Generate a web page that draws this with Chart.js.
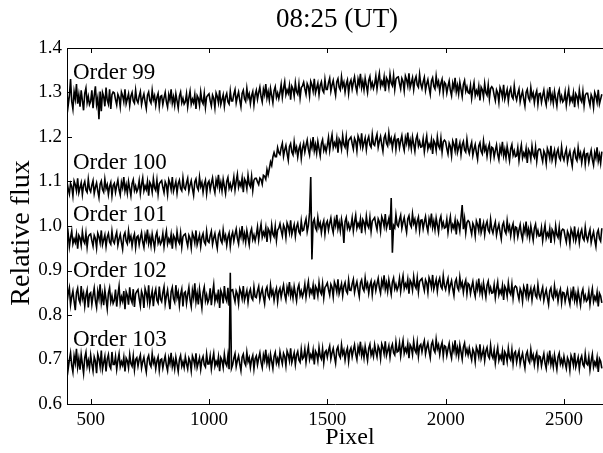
<!DOCTYPE html>
<html>
<head>
<meta charset="utf-8">
<script src="https://cdn.jsdelivr.net/npm/chart.js@4.4.1/dist/chart.umd.min.js"></script>
<style>
  html, body { margin: 0; padding: 0; background: #fff; }
  #wrap { width: 603px; height: 453px; }
</style>
</head>
<body>
<div id="wrap"><canvas id="chart" width="603" height="453"></canvas></div>
<script>
const pixels = Array.from({length: 453}, (_, i) => 400 + 5 * i)

const order99 = [
  1.299, 1.271, 1.292, 1.330, 1.280, 1.263, 1.302, 1.285, 1.319, 1.275, 1.295, 1.268, 1.305, 1.282, 1.260, 1.298, 1.310, 1.277, 1.291, 1.273,
  1.280, 1.305, 1.265, 1.293, 1.314, 1.273, 1.288, 1.240, 1.302, 1.258, 1.300, 1.291, 1.269, 1.311, 1.283, 1.274, 1.307, 1.263, 1.295, 1.301,
  1.299, 1.284, 1.272, 1.296, 1.289, 1.268, 1.301, 1.293, 1.279, 1.307, 1.275, 1.286, 1.297, 1.271, 1.292, 1.300, 1.281, 1.276, 1.305, 1.283,
  1.277, 1.292, 1.302, 1.273, 1.287, 1.297, 1.279, 1.264, 1.294, 1.301, 1.282, 1.276, 1.305, 1.284, 1.293, 1.271, 1.289, 1.298, 1.268, 1.291,
  1.293, 1.273, 1.288, 1.300, 1.279, 1.267, 1.295, 1.283, 1.307, 1.276, 1.290, 1.271, 1.297, 1.281, 1.265, 1.292, 1.301, 1.277, 1.287, 1.274,
  1.279, 1.297, 1.268, 1.288, 1.303, 1.274, 1.285, 1.277, 1.295, 1.263, 1.293, 1.287, 1.271, 1.301, 1.281, 1.275, 1.298, 1.267, 1.290, 1.294,
  1.297, 1.282, 1.270, 1.294, 1.287, 1.266, 1.299, 1.291, 1.277, 1.305, 1.273, 1.284, 1.295, 1.269, 1.290, 1.298, 1.279, 1.274, 1.303, 1.281,
  1.281, 1.296, 1.306, 1.277, 1.291, 1.301, 1.283, 1.268, 1.298, 1.305, 1.286, 1.280, 1.309, 1.288, 1.297, 1.275, 1.293, 1.302, 1.272, 1.295,
  1.305, 1.285, 1.300, 1.312, 1.291, 1.279, 1.307, 1.295, 1.319, 1.288, 1.302, 1.283, 1.309, 1.293, 1.277, 1.304, 1.313, 1.289, 1.299, 1.286,
  1.300, 1.318, 1.289, 1.309, 1.324, 1.295, 1.306, 1.298, 1.316, 1.284, 1.314, 1.308, 1.292, 1.322, 1.302, 1.296, 1.319, 1.288, 1.311, 1.315,
  1.323, 1.308, 1.296, 1.320, 1.313, 1.292, 1.325, 1.317, 1.303, 1.331, 1.299, 1.310, 1.321, 1.295, 1.316, 1.324, 1.305, 1.300, 1.329, 1.307,
  1.307, 1.322, 1.332, 1.303, 1.317, 1.327, 1.309, 1.294, 1.324, 1.331, 1.312, 1.306, 1.335, 1.314, 1.323, 1.301, 1.319, 1.328, 1.298, 1.321,
  1.328, 1.308, 1.323, 1.335, 1.314, 1.302, 1.330, 1.318, 1.342, 1.311, 1.325, 1.306, 1.332, 1.316, 1.300, 1.327, 1.336, 1.312, 1.322, 1.309,
  1.319, 1.337, 1.308, 1.328, 1.343, 1.314, 1.325, 1.317, 1.335, 1.303, 1.333, 1.327, 1.311, 1.341, 1.321, 1.315, 1.338, 1.307, 1.330, 1.334,
  1.335, 1.320, 1.308, 1.332, 1.325, 1.304, 1.337, 1.329, 1.315, 1.343, 1.311, 1.322, 1.333, 1.307, 1.328, 1.336, 1.317, 1.312, 1.341, 1.319,
  1.309, 1.324, 1.334, 1.305, 1.319, 1.329, 1.311, 1.296, 1.326, 1.333, 1.314, 1.308, 1.337, 1.316, 1.325, 1.303, 1.321, 1.330, 1.300, 1.323,
  1.319, 1.299, 1.314, 1.326, 1.305, 1.293, 1.321, 1.309, 1.333, 1.302, 1.316, 1.297, 1.323, 1.307, 1.291, 1.318, 1.327, 1.303, 1.313, 1.300,
  1.298, 1.316, 1.287, 1.307, 1.322, 1.293, 1.304, 1.296, 1.314, 1.282, 1.312, 1.306, 1.290, 1.320, 1.300, 1.294, 1.317, 1.286, 1.309, 1.313,
  1.309, 1.294, 1.282, 1.306, 1.299, 1.278, 1.311, 1.303, 1.289, 1.317, 1.285, 1.296, 1.307, 1.281, 1.302, 1.310, 1.291, 1.286, 1.315, 1.293,
  1.283, 1.298, 1.308, 1.279, 1.293, 1.303, 1.285, 1.270, 1.300, 1.307, 1.288, 1.282, 1.311, 1.290, 1.299, 1.277, 1.295, 1.304, 1.274, 1.297,
  1.298, 1.278, 1.293, 1.305, 1.284, 1.272, 1.300, 1.288, 1.312, 1.281, 1.295, 1.276, 1.302, 1.286, 1.270, 1.297, 1.306, 1.282, 1.292, 1.279,
  1.283, 1.301, 1.272, 1.292, 1.307, 1.278, 1.289, 1.281, 1.299, 1.267, 1.297, 1.291, 1.275, 1.305, 1.285, 1.279, 1.302, 1.271, 1.294, 1.298,
  1.298, 1.283, 1.271, 1.295, 1.288, 1.267, 1.300, 1.292, 1.278, 1.306, 1.274, 1.285, 1.296
]

const order100 = [
  1.099, 1.084, 1.072, 1.096, 1.089, 1.068, 1.101, 1.093, 1.079, 1.107, 1.075, 1.086, 1.097, 1.071, 1.092, 1.100, 1.081, 1.076, 1.105, 1.083,
  1.077, 1.092, 1.102, 1.073, 1.087, 1.097, 1.079, 1.064, 1.094, 1.101, 1.082, 1.076, 1.105, 1.084, 1.093, 1.071, 1.089, 1.098, 1.068, 1.091,
  1.096, 1.076, 1.091, 1.103, 1.082, 1.070, 1.098, 1.086, 1.110, 1.079, 1.093, 1.074, 1.100, 1.084, 1.068, 1.095, 1.104, 1.080, 1.090, 1.077,
  1.084, 1.102, 1.073, 1.093, 1.108, 1.079, 1.090, 1.082, 1.100, 1.068, 1.098, 1.092, 1.076, 1.106, 1.086, 1.080, 1.103, 1.072, 1.095, 1.099,
  1.102, 1.087, 1.075, 1.099, 1.092, 1.071, 1.104, 1.096, 1.082, 1.110, 1.078, 1.089, 1.100, 1.074, 1.095, 1.103, 1.084, 1.079, 1.108, 1.086,
  1.082, 1.097, 1.107, 1.078, 1.092, 1.102, 1.084, 1.069, 1.099, 1.106, 1.087, 1.081, 1.110, 1.089, 1.098, 1.076, 1.094, 1.103, 1.073, 1.096,
  1.101, 1.081, 1.096, 1.108, 1.087, 1.075, 1.103, 1.091, 1.115, 1.084, 1.098, 1.079, 1.105, 1.089, 1.073, 1.100, 1.109, 1.085, 1.095, 1.082,
  1.092, 1.110, 1.081, 1.101, 1.116, 1.087, 1.098, 1.090, 1.108, 1.076, 1.106, 1.100, 1.084, 1.114, 1.094, 1.088, 1.111, 1.080, 1.103, 1.107,
  1.107, 1.099, 1.093, 1.108, 1.105, 1.094, 1.114, 1.112, 1.105, 1.127, 1.115, 1.129, 1.144, 1.136, 1.155, 1.165, 1.156, 1.156, 1.176, 1.165,
  1.161, 1.176, 1.186, 1.157, 1.171, 1.181, 1.163, 1.148, 1.178, 1.185, 1.166, 1.160, 1.189, 1.168, 1.177, 1.155, 1.173, 1.182, 1.152, 1.175,
  1.186, 1.166, 1.181, 1.193, 1.172, 1.160, 1.188, 1.176, 1.200, 1.169, 1.183, 1.164, 1.190, 1.174, 1.158, 1.185, 1.194, 1.170, 1.180, 1.167,
  1.181, 1.199, 1.170, 1.190, 1.205, 1.176, 1.187, 1.179, 1.197, 1.165, 1.195, 1.189, 1.173, 1.203, 1.183, 1.177, 1.200, 1.169, 1.192, 1.196,
  1.200, 1.185, 1.173, 1.197, 1.190, 1.169, 1.202, 1.194, 1.180, 1.208, 1.176, 1.187, 1.198, 1.172, 1.193, 1.201, 1.182, 1.177, 1.206, 1.184,
  1.181, 1.196, 1.206, 1.177, 1.191, 1.201, 1.183, 1.168, 1.198, 1.205, 1.186, 1.180, 1.209, 1.188, 1.197, 1.175, 1.193, 1.202, 1.172, 1.195,
  1.196, 1.176, 1.191, 1.203, 1.182, 1.170, 1.198, 1.186, 1.210, 1.179, 1.193, 1.174, 1.200, 1.184, 1.168, 1.195, 1.204, 1.180, 1.190, 1.177,
  1.178, 1.196, 1.167, 1.187, 1.202, 1.173, 1.184, 1.176, 1.194, 1.162, 1.192, 1.186, 1.170, 1.200, 1.180, 1.174, 1.197, 1.166, 1.189, 1.193,
  1.189, 1.174, 1.162, 1.186, 1.179, 1.158, 1.191, 1.183, 1.169, 1.197, 1.165, 1.176, 1.187, 1.161, 1.182, 1.190, 1.171, 1.166, 1.195, 1.173,
  1.163, 1.178, 1.188, 1.159, 1.173, 1.183, 1.165, 1.150, 1.180, 1.187, 1.168, 1.162, 1.191, 1.170, 1.179, 1.157, 1.175, 1.184, 1.154, 1.177,
  1.175, 1.155, 1.170, 1.182, 1.161, 1.149, 1.177, 1.165, 1.189, 1.158, 1.172, 1.153, 1.179, 1.163, 1.147, 1.174, 1.183, 1.159, 1.169, 1.156,
  1.158, 1.176, 1.147, 1.167, 1.182, 1.153, 1.164, 1.156, 1.174, 1.142, 1.172, 1.166, 1.150, 1.180, 1.160, 1.154, 1.177, 1.146, 1.169, 1.173,
  1.172, 1.157, 1.145, 1.169, 1.162, 1.141, 1.174, 1.166, 1.152, 1.180, 1.148, 1.159, 1.170, 1.144, 1.165, 1.173, 1.154, 1.149, 1.178, 1.156,
  1.148, 1.163, 1.173, 1.144, 1.158, 1.168, 1.150, 1.135, 1.165, 1.172, 1.153, 1.147, 1.176, 1.155, 1.164, 1.142, 1.160, 1.169, 1.139, 1.162,
  1.163, 1.143, 1.158, 1.170, 1.149, 1.137, 1.165, 1.153, 1.177, 1.146, 1.160, 1.141, 1.167
]

const order101 = [
  0.965, 0.983, 0.954, 0.974, 0.989, 0.960, 0.971, 0.963, 0.981, 0.949, 0.979, 0.973, 0.957, 0.987, 0.967, 0.961, 0.984, 0.953, 0.976, 0.980,
  0.982, 0.967, 0.955, 0.979, 0.972, 0.951, 0.984, 0.976, 0.962, 0.990, 0.958, 0.969, 0.980, 0.954, 0.975, 0.983, 0.964, 0.959, 0.988, 0.966,
  0.961, 0.976, 0.986, 0.957, 0.971, 0.981, 0.963, 0.948, 0.978, 0.985, 0.966, 0.960, 0.989, 0.968, 0.977, 0.955, 0.973, 0.982, 0.952, 0.975,
  0.978, 0.958, 0.973, 0.985, 0.964, 0.952, 0.980, 0.968, 0.992, 0.961, 0.975, 0.956, 0.982, 0.966, 0.950, 0.977, 0.986, 0.962, 0.972, 0.959,
  0.965, 0.983, 0.954, 0.974, 0.989, 0.960, 0.971, 0.963, 0.981, 0.949, 0.979, 0.973, 0.957, 0.987, 0.967, 0.961, 0.984, 0.953, 0.976, 0.980,
  0.982, 0.967, 0.955, 0.979, 0.972, 0.951, 0.984, 0.976, 0.962, 0.990, 0.958, 0.969, 0.980, 0.954, 0.975, 0.983, 0.964, 0.959, 0.988, 0.966,
  0.963, 0.978, 0.988, 0.959, 0.973, 0.983, 0.965, 0.950, 0.980, 0.987, 0.968, 0.962, 0.991, 0.970, 0.979, 0.957, 0.975, 0.984, 0.954, 0.977,
  0.986, 0.966, 0.981, 0.993, 0.972, 0.960, 0.988, 0.976, 1.000, 0.969, 0.983, 0.964, 0.990, 0.974, 0.958, 0.985, 0.994, 0.970, 0.980, 0.967,
  0.980, 0.998, 0.969, 0.989, 1.004, 0.975, 0.986, 0.978, 0.996, 0.964, 0.994, 0.988, 0.972, 1.002, 0.982, 0.976, 0.999, 0.968, 0.991, 0.995,
  1.005, 0.990, 0.978, 1.002, 0.995, 0.974, 1.007, 0.999, 0.985, 1.013, 0.981, 0.992, 1.003, 0.977, 0.998, 1.006, 0.987, 0.982, 1.011, 0.989,
  0.991, 1.006, 1.016, 0.987, 1.001, 1.030, 1.110, 0.925, 1.008, 1.015, 0.996, 0.990, 1.019, 0.998, 1.007, 0.985, 1.003, 1.012, 0.982, 1.005,
  1.011, 0.991, 1.006, 1.018, 0.997, 0.985, 1.013, 1.001, 1.025, 0.994, 1.008, 0.989, 1.015, 0.999, 0.962, 1.010, 1.019, 0.995, 1.005, 0.992,
  1.000, 1.018, 0.989, 1.009, 1.024, 0.995, 1.006, 0.998, 1.016, 0.984, 1.014, 1.008, 0.992, 1.022, 1.002, 0.996, 1.019, 0.988, 1.011, 1.015,
  1.019, 1.004, 0.992, 1.016, 1.009, 0.988, 1.021, 1.013, 0.999, 1.027, 0.995, 1.006, 1.017, 0.991, 1.063, 0.940, 1.001, 0.996, 1.025, 1.003,
  0.999, 1.014, 1.024, 0.995, 1.009, 1.019, 1.001, 0.986, 1.016, 1.023, 1.004, 0.998, 1.027, 1.006, 1.015, 0.993, 1.011, 1.020, 0.990, 1.013,
  1.014, 0.994, 1.009, 1.021, 1.000, 0.988, 1.016, 1.004, 1.028, 0.997, 1.011, 0.992, 1.018, 1.002, 0.986, 1.013, 1.022, 0.998, 1.008, 0.995,
  0.997, 1.015, 0.986, 1.006, 1.021, 0.992, 1.003, 0.995, 1.013, 0.981, 1.011, 1.005, 0.989, 1.019, 1.047, 0.993, 1.016, 0.985, 1.008, 1.012,
  1.009, 0.994, 0.982, 1.006, 0.999, 0.978, 1.011, 1.003, 0.989, 1.017, 0.985, 0.996, 1.007, 0.981, 1.002, 1.010, 0.991, 0.986, 1.015, 0.993,
  0.984, 0.999, 1.009, 0.980, 0.994, 1.004, 0.986, 0.971, 1.001, 1.008, 0.989, 0.983, 1.012, 0.991, 1.000, 0.978, 0.996, 1.005, 0.975, 0.998,
  0.996, 0.976, 0.991, 1.003, 0.982, 0.970, 0.998, 0.986, 1.010, 0.979, 0.993, 0.974, 1.000, 0.984, 0.968, 0.995, 1.004, 0.980, 0.990, 0.977,
  0.978, 0.996, 0.967, 0.987, 1.002, 0.973, 0.984, 0.976, 0.994, 0.962, 0.992, 0.986, 0.970, 1.000, 0.980, 0.974, 0.997, 0.966, 0.989, 0.993,
  0.991, 0.976, 0.964, 0.988, 0.981, 0.960, 0.993, 0.985, 0.971, 0.999, 0.967, 0.978, 0.989, 0.963, 0.984, 0.992, 0.973, 0.968, 0.997, 0.975,
  0.967, 0.982, 0.992, 0.963, 0.977, 0.987, 0.969, 0.954, 0.984, 0.991, 0.972, 0.966, 0.995
]

const order102 = [
  0.828, 0.848, 0.861, 0.823, 0.841, 0.854, 0.831, 0.811, 0.850, 0.860, 0.835, 0.827, 0.865, 0.837, 0.849, 0.820, 0.844, 0.856, 0.817, 0.847,
  0.850, 0.824, 0.844, 0.860, 0.832, 0.817, 0.853, 0.837, 0.869, 0.828, 0.847, 0.822, 0.856, 0.835, 0.814, 0.849, 0.861, 0.830, 0.843, 0.826,
  0.833, 0.857, 0.819, 0.845, 0.865, 0.827, 0.841, 0.831, 0.854, 0.813, 0.852, 0.844, 0.823, 0.862, 0.836, 0.828, 0.858, 0.818, 0.848, 0.853,
  0.857, 0.837, 0.821, 0.853, 0.844, 0.816, 0.859, 0.849, 0.831, 0.867, 0.825, 0.840, 0.854, 0.820, 0.848, 0.858, 0.833, 0.827, 0.864, 0.836,
  0.830, 0.850, 0.863, 0.825, 0.843, 0.856, 0.833, 0.813, 0.852, 0.862, 0.837, 0.829, 0.867, 0.839, 0.851, 0.822, 0.846, 0.858, 0.819, 0.849,
  0.852, 0.826, 0.846, 0.862, 0.834, 0.819, 0.855, 0.839, 0.871, 0.830, 0.849, 0.824, 0.858, 0.837, 0.816, 0.851, 0.863, 0.832, 0.845, 0.828,
  0.836, 0.860, 0.822, 0.848, 0.868, 0.830, 0.844, 0.834, 0.857, 0.816, 0.855, 0.847, 0.826, 0.865, 0.839, 0.831, 0.861, 0.821, 0.851, 0.856,
  0.857, 0.842, 0.830, 0.854, 0.847, 0.826, 0.859, 0.851, 0.837, 0.865, 0.833, 0.844, 0.855, 0.829, 0.850, 0.858, 0.839, 0.834, 0.863, 0.841,
  0.839, 0.854, 0.864, 0.835, 0.849, 0.859, 0.841, 0.826, 0.856, 0.863, 0.844, 0.838, 0.867, 0.846, 0.855, 0.833, 0.851, 0.860, 0.830, 0.853,
  0.860, 0.840, 0.855, 0.867, 0.846, 0.834, 0.862, 0.850, 0.874, 0.843, 0.857, 0.838, 0.864, 0.848, 0.832, 0.859, 0.868, 0.844, 0.854, 0.841,
  0.851, 0.869, 0.840, 0.860, 0.875, 0.846, 0.857, 0.849, 0.867, 0.835, 0.865, 0.859, 0.843, 0.873, 0.853, 0.847, 0.870, 0.839, 0.862, 0.866,
  0.872, 0.857, 0.845, 0.869, 0.862, 0.841, 0.874, 0.866, 0.852, 0.880, 0.848, 0.859, 0.870, 0.844, 0.865, 0.873, 0.854, 0.849, 0.878, 0.856,
  0.855, 0.870, 0.880, 0.851, 0.865, 0.875, 0.857, 0.842, 0.872, 0.879, 0.860, 0.854, 0.883, 0.862, 0.871, 0.849, 0.867, 0.876, 0.846, 0.869,
  0.875, 0.855, 0.870, 0.882, 0.861, 0.849, 0.877, 0.865, 0.889, 0.858, 0.872, 0.853, 0.879, 0.863, 0.847, 0.874, 0.883, 0.859, 0.869, 0.856,
  0.864, 0.882, 0.853, 0.873, 0.888, 0.859, 0.870, 0.862, 0.880, 0.848, 0.878, 0.872, 0.856, 0.886, 0.866, 0.860, 0.883, 0.852, 0.875, 0.879,
  0.882, 0.867, 0.855, 0.879, 0.872, 0.851, 0.884, 0.876, 0.862, 0.890, 0.858, 0.869, 0.880, 0.854, 0.875, 0.883, 0.864, 0.859, 0.888, 0.866,
  0.857, 0.872, 0.882, 0.853, 0.867, 0.877, 0.859, 0.844, 0.874, 0.881, 0.862, 0.856, 0.885, 0.864, 0.873, 0.851, 0.869, 0.878, 0.848, 0.871,
  0.868, 0.848, 0.863, 0.875, 0.854, 0.842, 0.870, 0.858, 0.882, 0.851, 0.865, 0.846, 0.872, 0.856, 0.840, 0.867, 0.876, 0.852, 0.862, 0.849,
  0.850, 0.868, 0.839, 0.859, 0.874, 0.845, 0.856, 0.848, 0.866, 0.834, 0.864, 0.858, 0.842, 0.872, 0.852, 0.846, 0.869, 0.838, 0.861, 0.865,
  0.862, 0.847, 0.835, 0.859, 0.852, 0.831, 0.864, 0.856, 0.842, 0.870, 0.838, 0.849, 0.860, 0.834, 0.855, 0.863, 0.844, 0.839, 0.868, 0.846,
  0.837, 0.852, 0.862, 0.833, 0.847, 0.857, 0.839, 0.824, 0.854, 0.861, 0.842, 0.836, 0.865, 0.844, 0.853, 0.831, 0.849, 0.858, 0.828, 0.851,
  0.850, 0.830, 0.845, 0.857, 0.836, 0.824, 0.852, 0.840, 0.864, 0.833, 0.847, 0.828, 0.854, 0.838, 0.822, 0.849, 0.858, 0.834, 0.844, 0.831,
  0.835, 0.853, 0.824, 0.844, 0.859, 0.830, 0.841, 0.833, 0.851, 0.819, 0.849, 0.843, 0.827
]

const order103 = [
  0.705, 0.679, 0.699, 0.715, 0.687, 0.672, 0.708, 0.692, 0.724, 0.683, 0.702, 0.677, 0.711, 0.690, 0.669, 0.704, 0.716, 0.685, 0.698, 0.681,
  0.710, 0.690, 0.674, 0.706, 0.697, 0.669, 0.712, 0.702, 0.684, 0.720, 0.678, 0.693, 0.707, 0.673, 0.701, 0.711, 0.686, 0.680, 0.717, 0.689,
  0.689, 0.707, 0.678, 0.698, 0.713, 0.684, 0.695, 0.687, 0.705, 0.673, 0.703, 0.697, 0.681, 0.711, 0.691, 0.685, 0.708, 0.677, 0.700, 0.704,
  0.685, 0.700, 0.710, 0.681, 0.695, 0.705, 0.687, 0.672, 0.702, 0.709, 0.690, 0.684, 0.713, 0.692, 0.701, 0.679, 0.697, 0.706, 0.676, 0.699,
  0.701, 0.681, 0.696, 0.708, 0.687, 0.675, 0.703, 0.691, 0.715, 0.684, 0.698, 0.679, 0.705, 0.689, 0.673, 0.700, 0.709, 0.685, 0.695, 0.682,
  0.706, 0.691, 0.679, 0.703, 0.696, 0.675, 0.708, 0.700, 0.686, 0.714, 0.682, 0.693, 0.704, 0.678, 0.699, 0.707, 0.688, 0.683, 0.712, 0.690,
  0.690, 0.708, 0.679, 0.699, 0.714, 0.685, 0.696, 0.688, 0.706, 0.674, 0.704, 0.698, 0.682, 0.712, 0.692, 0.686, 0.709, 0.678, 0.895, 0.680,
  0.688, 0.703, 0.713, 0.684, 0.698, 0.708, 0.690, 0.675, 0.705, 0.712, 0.693, 0.687, 0.716, 0.695, 0.704, 0.682, 0.700, 0.709, 0.679, 0.702,
  0.708, 0.688, 0.703, 0.715, 0.694, 0.682, 0.710, 0.698, 0.722, 0.691, 0.705, 0.686, 0.712, 0.696, 0.680, 0.707, 0.716, 0.692, 0.702, 0.689,
  0.717, 0.702, 0.690, 0.714, 0.707, 0.686, 0.719, 0.711, 0.697, 0.725, 0.693, 0.704, 0.715, 0.689, 0.710, 0.718, 0.699, 0.694, 0.723, 0.701,
  0.705, 0.723, 0.694, 0.714, 0.729, 0.700, 0.711, 0.703, 0.721, 0.689, 0.719, 0.713, 0.697, 0.727, 0.707, 0.701, 0.724, 0.693, 0.716, 0.720,
  0.705, 0.720, 0.730, 0.701, 0.715, 0.725, 0.707, 0.692, 0.722, 0.729, 0.710, 0.704, 0.733, 0.712, 0.721, 0.699, 0.717, 0.726, 0.696, 0.719,
  0.726, 0.706, 0.721, 0.733, 0.712, 0.700, 0.728, 0.716, 0.740, 0.709, 0.723, 0.704, 0.730, 0.714, 0.698, 0.725, 0.734, 0.710, 0.720, 0.707,
  0.733, 0.718, 0.706, 0.730, 0.723, 0.702, 0.735, 0.727, 0.713, 0.741, 0.709, 0.720, 0.731, 0.705, 0.726, 0.734, 0.715, 0.710, 0.739, 0.717,
  0.719, 0.737, 0.708, 0.728, 0.743, 0.714, 0.725, 0.717, 0.735, 0.703, 0.733, 0.727, 0.711, 0.741, 0.721, 0.715, 0.738, 0.707, 0.730, 0.734,
  0.717, 0.732, 0.742, 0.713, 0.727, 0.737, 0.719, 0.704, 0.734, 0.741, 0.722, 0.716, 0.745, 0.724, 0.733, 0.711, 0.729, 0.738, 0.708, 0.731,
  0.729, 0.709, 0.724, 0.736, 0.715, 0.703, 0.731, 0.719, 0.743, 0.712, 0.726, 0.707, 0.733, 0.717, 0.701, 0.728, 0.737, 0.713, 0.723, 0.710,
  0.726, 0.711, 0.699, 0.723, 0.716, 0.695, 0.728, 0.720, 0.706, 0.734, 0.702, 0.713, 0.724, 0.698, 0.719, 0.727, 0.708, 0.703, 0.732, 0.710,
  0.703, 0.721, 0.692, 0.712, 0.727, 0.698, 0.709, 0.701, 0.719, 0.687, 0.717, 0.711, 0.695, 0.725, 0.705, 0.699, 0.722, 0.691, 0.714, 0.718,
  0.694, 0.709, 0.719, 0.690, 0.704, 0.714, 0.696, 0.681, 0.711, 0.718, 0.699, 0.693, 0.722, 0.701, 0.710, 0.688, 0.706, 0.715, 0.685, 0.708,
  0.706, 0.686, 0.701, 0.713, 0.692, 0.680, 0.708, 0.696, 0.720, 0.689, 0.703, 0.684, 0.710, 0.694, 0.678, 0.705, 0.714, 0.690, 0.700, 0.687,
  0.707, 0.692, 0.680, 0.704, 0.697, 0.676, 0.709, 0.701, 0.687, 0.715, 0.683, 0.694, 0.705, 0.679, 0.700, 0.708, 0.689, 0.684, 0.713, 0.691,
  0.688, 0.706, 0.677, 0.697, 0.712, 0.683, 0.694, 0.686, 0.704, 0.672, 0.702, 0.696, 0.680
]

const seriesList = [order99, order100, order101, order102, order103]
const orderNames = ['Order 99', 'Order 100', 'Order 101', 'Order 102', 'Order 103']
const labelY = [1.33, 1.128, 1.012, 0.885, 0.731]
const xTicks = [500, 1000, 1500, 2000, 2500]
const yTicks = [0.6, 0.7, 0.8, 0.9, 1.0, 1.1, 1.2, 1.3, 1.4]

const serif = "'Liberation Serif', 'DejaVu Serif', serif"

// inward ticks, top frame, titles and the order names
const decorations = {
    id: 'decorations',
    afterDraw(chart) {
        const ctx = chart.ctx
        const a = chart.chartArea
        const xs = chart.scales.x
        const ys = chart.scales.y
        ctx.save()
        ctx.strokeStyle = '#000'
        ctx.lineWidth = 1
        ctx.beginPath()
        ctx.moveTo(a.left, a.top + 0.5)
        ctx.lineTo(a.right, a.top + 0.5)
        xTicks.forEach(v => {
            const px = Math.round(xs.getPixelForValue(v)) + 0.5
            ctx.moveTo(px, a.bottom)
            ctx.lineTo(px, a.bottom - 5)
            ctx.moveTo(px, a.top)
            ctx.lineTo(px, a.top + 5)
        })
        yTicks.forEach(v => {
            const py = Math.round(ys.getPixelForValue(v)) + 0.5
            ctx.moveTo(a.left, py)
            ctx.lineTo(a.left + 5, py)
        })
        ctx.stroke()

        ctx.fillStyle = '#000'
        ctx.textAlign = 'left'
        ctx.textBaseline = 'alphabetic'
        ctx.font = '23px ' + serif
        orderNames.forEach((name, i) => {
            ctx.fillText(name, xs.getPixelForValue(425), ys.getPixelForValue(labelY[i]))
        })

        ctx.textAlign = 'center'
        ctx.textBaseline = 'middle'
        ctx.font = '27px ' + serif
        ctx.fillText('08:25 (UT)', 337, 20)
        ctx.font = '24px ' + serif
        ctx.fillText('Pixel', 350, 438)
        ctx.translate(22, 233)
        ctx.rotate(-Math.PI / 2)
        ctx.font = '28px ' + serif
        ctx.fillText('Relative flux', 0, 0)
        ctx.restore()
    }
}

const config = {
    type: 'line',
    data: {
        datasets: seriesList.map((vals, i) => ({
            label: orderNames[i],
            data: vals.map((v, j) => ({x: pixels[j], y: v})),
            borderColor: '#000',
            borderWidth: 1.6,
            pointRadius: 0,
            tension: 0,
            fill: false
        }))
    },
    options: {
        responsive: false,
        animation: false,
        layout: {padding: {top: 48, right: 0, left: 0, bottom: 0}},
        plugins: {legend: {display: false}, tooltip: {enabled: false}, title: {display: false}},
        scales: {
            x: {
                type: 'linear',
                min: 400,
                max: 2665,
                afterBuildTicks: s => { s.ticks = xTicks.map(v => ({value: v})) },
                afterFit: s => { s.height = 49 },
                grid: {display: false, drawTicks: false},
                border: {display: true, color: '#000', width: 1},
                ticks: {color: '#000', padding: 5, maxRotation: 0, font: {family: serif, size: 19},
                    callback: v => String(v)}
            },
            y: {
                type: 'linear',
                min: 0.6,
                max: 1.4,
                afterBuildTicks: s => { s.ticks = yTicks.map(v => ({value: v})) },
                afterFit: s => { s.width = 67 },
                grid: {display: false, drawTicks: false},
                border: {display: true, color: '#000', width: 1},
                ticks: {color: '#000', padding: 5, font: {family: serif, size: 19},
                    callback: v => v.toFixed(1)}
            }
        }
    },
    plugins: [decorations]
}

const myChart = new Chart(document.getElementById('chart'), config)
</script>
</body>
</html>
